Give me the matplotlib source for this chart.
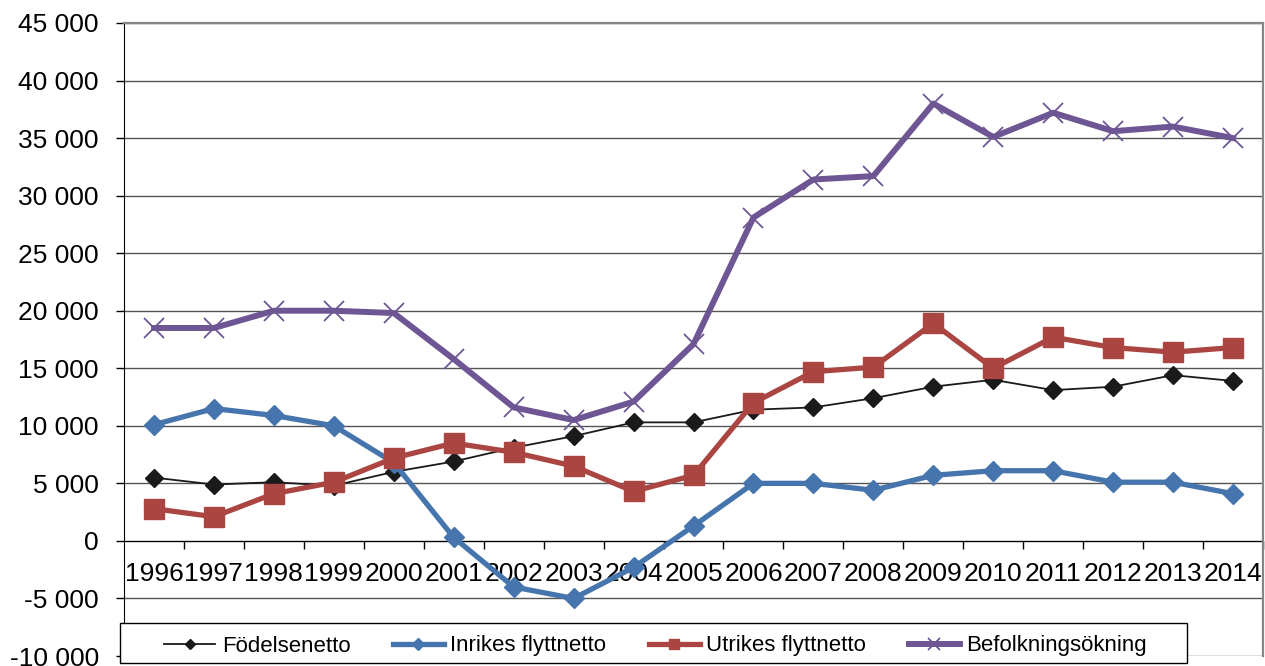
import numpy as np
import matplotlib
matplotlib.use("Agg")
import matplotlib.pyplot as plt
from matplotlib.ticker import FuncFormatter, FixedLocator
from matplotlib.patches import Rectangle

plt.rcParams['font.family'] = ['Liberation Sans', 'DejaVu Sans']

# data
years = [str(y) for y in range(1996, 2015)]
fodelsenetto = [5500, 4900, 5100, 4800, 6000, 6900, 8100, 9100, 10300, 10300,
                11400, 11600, 12400, 13400, 14000, 13100, 13400, 14400, 13900]
inrikes = [10100, 11500, 10900, 10000, 6800, 300, -4000, -5000, -2300, 1300,
           5000, 5000, 4400, 5700, 6100, 6100, 5100, 5100, 4100]
utrikes = [2800, 2100, 4100, 5100, 7200, 8500, 7700, 6500, 4300, 5700,
           12000, 14700, 15100, 18900, 15000, 17700, 16800, 16400, 16800]
befolkning = [18500, 18500, 20000, 20000, 19800, 15800, 11600, 10500, 12100, 17100,
              28100, 31400, 31700, 38000, 35100, 37200, 35600, 36000, 35000]

x = np.arange(len(years))

fig = plt.figure(figsize=(12.65, 6.66), dpi=100)
ax = fig.add_axes([124/1265, 1 - 656/666, (1263 - 124)/1265, (656 - 23)/666])

ax.plot(x, fodelsenetto, color='#1a1a1a', lw=1.3, marker='D', ms=9.5,
        label='Födelsenetto', zorder=3)
ax.plot(x, inrikes, color='#4674AD', lw=3.8, marker='D', ms=10.5,
        label='Inrikes flyttnetto', zorder=4)
ax.plot(x, utrikes, color='#AA4541', lw=3.8, marker='s', ms=14,
        label='Utrikes flyttnetto', zorder=5)
ax.plot(x, befolkning, color='#6E5694', lw=4.3, marker='x', ms=14.5, mew=1.3,
        label='Befolkningsökning', zorder=6)

ax.set_xlim(-0.5, len(years) - 0.5)
ax.set_ylim(-10000, 45000)
ax.set_yticks(np.arange(-10000, 45001, 5000))
ax.yaxis.set_major_formatter(FuncFormatter(lambda v, p: f"{int(v):,}".replace(',', ' ')))
ax.tick_params(axis='y', labelsize=19, length=6, width=1, pad=12, color='black')
ax.yaxis.grid(True, color='#555555', lw=1)
ax.set_axisbelow(True)

# x axis crossing at zero, ticks between categories
ax.spines['bottom'].set_position(('data', 0))
ax.spines['bottom'].set_color('black')
ax.spines['bottom'].set_zorder(2)
ax.xaxis.set_major_locator(FixedLocator(np.arange(0.5, len(years), 1.0)))
ax.xaxis.set_minor_locator(FixedLocator(x))
ax.xaxis.set_major_formatter(FuncFormatter(lambda v, p: ''))
ax.set_xticks(x, years, minor=True)
ax.tick_params(axis='x', which='major', length=6, width=1, direction='out')
ax.tick_params(axis='x', which='minor', length=0, labelsize=19, pad=15)

ax.spines['left'].set_color('black')
for s in ['top', 'right']:
    ax.spines[s].set_color('#868686')
    ax.spines[s].set_linewidth(1.6)

# legend
frame = Rectangle((120/1265, 1 - 663/666), (1187 - 120)/1265, (663 - 623)/666,
                  transform=fig.transFigure, facecolor='white', edgecolor='black',
                  lw=1, zorder=10)
fig.patches.append(frame)
leg = fig.legend(loc='center left', bbox_to_anchor=(144/1265, 1 - 646/666),
                 ncol=4, frameon=False, fontsize=16, handlelength=2.3,
                 handletextpad=0.3, columnspacing=1.9, markerscale=0.55)
leg.set_zorder(11)

plt.savefig('out.png', dpi=100)
